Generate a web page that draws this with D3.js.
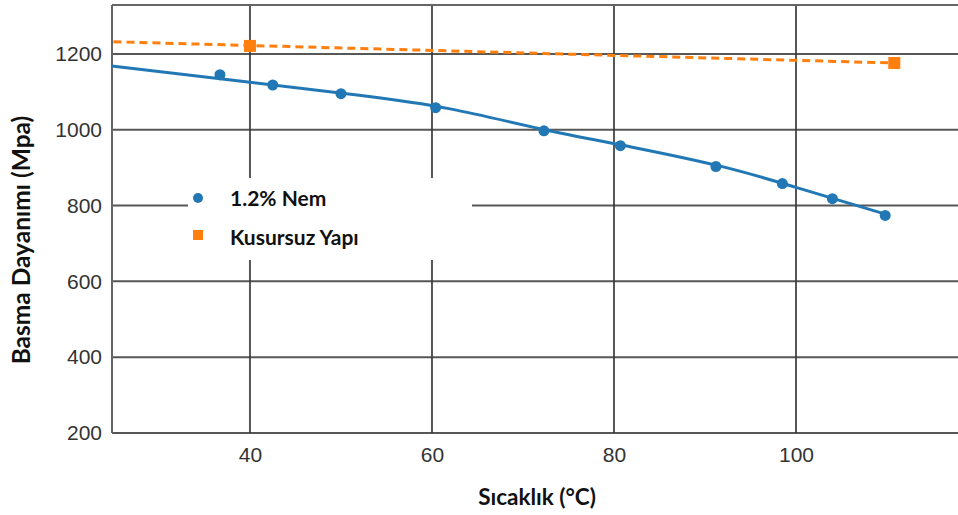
<!DOCTYPE html>
<html>
<head>
<meta charset="utf-8">
<script src="https://cdn.jsdelivr.net/npm/d3@7"></script>
<style>
  body { margin: 0; background: #fff; }
  svg { display: block; }
</style>
</head>
<body>
<svg id="chart" width="958" height="515"></svg>
<script>
// measured points (°C, MPa)
const nemTemp = [36.7, 42.5, 50.0, 60.4, 72.3, 80.7, 91.2, 98.5, 104.0, 109.8];
const nemStrength = [1145, 1118, 1095, 1058, 997, 958, 903, 858, 818, 774];

// fitted trend for 1.2% Nem
const nemFitTemp = [24.8, 40, 52, 62, 72, 82, 92, 100, 110];
const nemFitStrength = [1168, 1125, 1091, 1055, 1002, 954, 902, 848, 776];

const idealTemp = [40, 110.8];
const idealStrength = [1221, 1176];
const idealFitTemp = [25, 110.8];
const idealFitStrength = [1232, 1176];

const xTicks = [40, 60, 80, 100];
const yTicks = [200, 400, 600, 800, 1000, 1200];

const legendLabels = ['1.2% Nem', 'Kusursuz Yapı'];

const blue = '#2178b5',
	orange = '#ff7f0e',
	gridColor = '#3a3a3a';

const margin = { top: 5, right: 0, bottom: 82, left: 112 },
	width = 958 - margin.left - margin.right,
	height = 515 - margin.top - margin.bottom;

const svg = d3.select('#chart');
const g = svg.append('g').attr('transform', `translate(${margin.left},${margin.top})`);

const x = d3.scaleLinear().domain([24.84, 117.8]).range([0, width]);
const y = d3.scaleLinear().domain([200, 1329]).range([height, 0]);

// grid
g.append('g')
	.selectAll('line')
	.data(xTicks)
	.join('line')
	.attr('x1', d => x(d)).attr('x2', d => x(d))
	.attr('y1', 0).attr('y2', height)
	.attr('stroke', gridColor).attr('stroke-width', 2).attr('opacity', 0.85);

g.append('g')
	.selectAll('line')
	.data(yTicks)
	.join('line')
	.attr('x1', 0).attr('x2', width)
	.attr('y1', d => y(d)).attr('y2', d => y(d))
	.attr('stroke', gridColor).attr('stroke-width', 2).attr('opacity', 0.85);

// frame (left + top)
g.append('line').attr('x1', 0).attr('x2', 0).attr('y1', 0).attr('y2', height)
	.attr('stroke', '#666').attr('stroke-width', 2);
g.append('line').attr('x1', 0).attr('x2', width).attr('y1', 0).attr('y2', 0)
	.attr('stroke', '#666').attr('stroke-width', 2);

// tick labels
const yAxis = g.append('g')
	.call(d3.axisLeft(y).tickValues(yTicks).tickFormat(d3.format('d')).tickSize(0).tickPadding(10));
const xAxis = g.append('g').attr('transform', `translate(0,${height})`)
	.call(d3.axisBottom(x).tickValues(xTicks).tickFormat(d3.format('d')).tickSize(0).tickPadding(14));
[xAxis, yAxis].forEach(a => {
	a.attr('font-family', null).attr('font-size', null);
	a.select('.domain').remove();
	a.selectAll('text')
		.attr('fill', '#333')
		.style('font-family', '"Liberation Sans", Arial, sans-serif')
		.style('font-size', '21px');
});

// Kusursuz Yapı dashed trend
const line = d3.line().x(d => x(d[0])).y(d => y(d[1]));
g.append('path')
	.datum(d3.zip(idealFitTemp, idealFitStrength))
	.attr('d', line)
	.attr('fill', 'none')
	.attr('stroke', orange)
	.attr('stroke-width', 3)
	.attr('stroke-dasharray', '8,5');

// 1.2% Nem trend
g.append('path')
	.datum(d3.zip(nemFitTemp, nemFitStrength))
	.attr('d', line.curve(d3.curveNatural))
	.attr('fill', 'none')
	.attr('stroke', blue)
	.attr('stroke-width', 3);

g.append('g')
	.selectAll('circle')
	.data(d3.zip(nemTemp, nemStrength))
	.join('circle')
	.attr('cx', d => x(d[0]))
	.attr('cy', d => y(d[1]))
	.attr('r', 5.5)
	.attr('fill', blue);

g.append('g')
	.selectAll('rect')
	.data(d3.zip(idealTemp, idealStrength))
	.join('rect')
	.attr('x', d => x(d[0]) - 6)
	.attr('y', d => y(d[1]) - 6)
	.attr('width', 12).attr('height', 12)
	.attr('fill', orange);

// legend
const legend = svg.append('g').attr('transform', 'translate(188,178)');
legend.append('rect').attr('width', 284).attr('height', 82).attr('fill', '#fff');
const items = legend.selectAll('g.item')
	.data(legendLabels)
	.join('g')
	.attr('class', 'item')
	.attr('transform', (d, i) => `translate(0,${20 + i * 38})`);
items.each(function (d, i) {
	const it = d3.select(this);
	if (i === 0) {
		it.append('circle').attr('cx', 10).attr('cy', 0).attr('r', 5).attr('fill', blue);
	} else {
		it.append('rect').attr('x', 5).attr('y', -6).attr('width', 10).attr('height', 10).attr('fill', orange);
	}
	it.append('text')
		.attr('x', 42)
		.attr('y', i === 0 ? 8 : 9)
		.text(d)
		.style('font-family', 'Lato, sans-serif')
		.style('font-weight', 'bold')
		.style('font-size', '21px')
		.attr('fill', '#111');
});

// axis titles
svg.append('text')
	.attr('x', 537).attr('y', 505)
	.attr('text-anchor', 'middle')
	.style('font-family', 'Lato, sans-serif')
	.style('font-weight', 'bold')
	.style('font-size', '22.5px')
	.attr('fill', '#111')
	.text('Sıcaklık (°C)');

svg.append('text')
	.attr('transform', 'translate(30,240) rotate(-90)')
	.attr('text-anchor', 'middle')
	.style('font-family', 'Lato, sans-serif')
	.style('font-weight', 'bold')
	.style('font-size', '24.5px')
	.attr('fill', '#111')
	.text('Basma Dayanımı (Mpa)');
</script>
</body>
</html>
